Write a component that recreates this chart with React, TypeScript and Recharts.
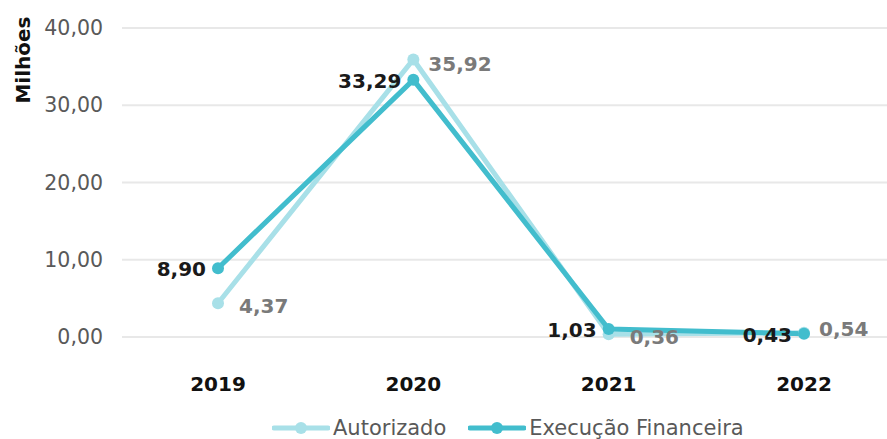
import React from 'react';
import { LineChart, Line, XAxis, YAxis, CartesianGrid, LabelList } from 'recharts';

const years = ['2019', '2020', '2021', '2022'];
const autorizado = [4.37, 35.92, 0.36, 0.54];
const execucao = [8.9, 33.29, 1.03, 0.43];
const yTicks = [0, 10, 20, 30, 40];

const LIGHT = '#A8E0E8';
const DARK = '#42BDCD';
const FONT = '"DejaVu Sans", sans-serif';

const data = years.map((y, i) => ({ year: y, autorizado: autorizado[i], execucao: execucao[i] }));

const fmt = (v: number) => v.toFixed(2).replace('.', ',');

function YTick({ y, payload }: any) {
  return (
    <text x={103} y={y} dy={7} textAnchor="end" fontSize={20.5} fill="#595959" fontFamily={FONT}>
      {fmt(payload.value)}
    </text>
  );
}

function XTick({ x, payload }: any) {
  return (
    <text x={x} y={391} textAnchor="middle" fontSize={20} fontWeight="bold" fill="#111" fontFamily={FONT}>
      {payload.value}
    </text>
  );
}

// execucao labels sit to the left of the point
function ExecLabel({ x, y, value }: any) {
  return (
    <text x={x - 12} y={y + 8} textAnchor="end" fontSize={20} fontWeight="bold" fill="#1a1a1a" fontFamily={FONT}>
      {fmt(value)}
    </text>
  );
}

// autorizado labels go right, lower-right for the ones under the other line
function AutLabel({ x, y, value, index }: any) {
  const below = index === 0 || index === 2;
  const dx = below ? 21 : 15;
  const dy = index === 1 ? 11 : index === 3 ? 3 : 10;
  return (
    <text x={x + dx} y={y + dy} textAnchor="start" fontSize={20} fontWeight="bold" fill="#7a7a7a" fontFamily={FONT}>
      {fmt(value)}
    </text>
  );
}

function LegendBox() {
  const items = [
    { name: 'Autorizado', color: LIGHT },
    { name: 'Execução Financeira', color: DARK },
  ];
  return (
    <div
      style={{
        position: 'absolute',
        left: 272,
        top: 416,
        display: 'flex',
        gap: 22,
        fontFamily: FONT,
        fontSize: 21,
        lineHeight: '24px',
        color: '#595959',
        whiteSpace: 'nowrap',
      }}
    >
      {items.map((it) => (
        <div key={it.name} style={{ display: 'flex', alignItems: 'center' }}>
          <svg width={58} height={14} style={{ marginRight: 3 }}>
            <line x1={2} y1={7} x2={56} y2={7} stroke={it.color} strokeWidth={5} strokeLinecap="round" />
            <circle cx={29} cy={7} r={6} fill={it.color} />
          </svg>
          <span>{it.name}</span>
        </div>
      ))}
    </div>
  );
}

export default function App() {
  return (
    <div style={{ position: 'absolute', left: 0, top: 0, width: 887, height: 439, background: '#fff' }}>
      <LineChart width={887} height={439} data={data} margin={{ top: 28, right: 0, left: 0, bottom: 72 }}>
        <CartesianGrid stroke="#e8e8e8" strokeWidth={2} vertical={false} />
        <XAxis
          dataKey="year"
          height={30}
          axisLine={false}
          tickLine={false}
          padding={{ left: 96, right: 83 }}
          tick={<XTick />}
        />
        <YAxis
          width={122}
          domain={[0, 40]}
          ticks={yTicks}
          axisLine={false}
          tickLine={false}
          tick={<YTick />}
          label={{
            content: () => (
              <text
                x={30}
                y={60}
                transform="rotate(-90, 30, 60)"
                textAnchor="middle"
                fontSize={20}
                fontWeight="bold"
                fill="#111"
                fontFamily={FONT}
              >
                Milhões
              </text>
            ),
          }}
        />
        <Line
          dataKey="autorizado"
          stroke={LIGHT}
          strokeWidth={5}
          dot={{ r: 6, fill: LIGHT, stroke: LIGHT, strokeWidth: 0 }}
          isAnimationActive={false}
        >
          <LabelList dataKey="autorizado" content={<AutLabel />} />
        </Line>
        <Line
          dataKey="execucao"
          stroke={DARK}
          strokeWidth={5}
          dot={{ r: 6, fill: DARK, stroke: DARK, strokeWidth: 0 }}
          isAnimationActive={false}
        >
          <LabelList dataKey="execucao" content={<ExecLabel />} />
        </Line>
      </LineChart>
      <LegendBox />
    </div>
  );
}
